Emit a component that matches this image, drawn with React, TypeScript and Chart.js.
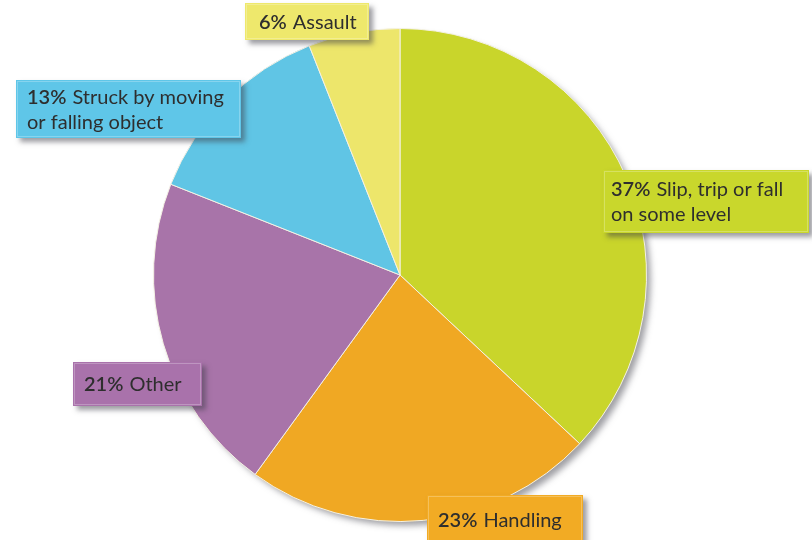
import React, { useEffect, useRef } from "react";
import { Chart, registerables } from "chart.js";

Chart.register(...registerables);

const categories = [
  "Slip, trip or fall on some level",
  "Handling",
  "Other",
  "Struck by moving or falling object",
  "Assault",
];
const percentages = [37, 23, 21, 13, 6];
const sliceColors = ["#c9d52b", "#f0a823", "#a874a9", "#60c5e5", "#ede66b"];
const boxColors = ["#c9d72c", "#f2ab24", "#a972ab", "#5fc6e8", "#eee86c"];

// label text lines (after the percentage) for each category
const labelLines = [
  ["Slip, trip or fall", "on some level"],
  ["Handling"],
  ["Other"],
  ["Struck by moving", "or falling object"],
  ["Assault"],
];

// layout of the label boxes (x, y, width, height) in canvas pixels
const boxLayout = [
  { x: 603, y: 170, w: 206, h: 63 },
  { x: 427, y: 495, w: 156, h: 50 },
  { x: 73, y: 362, w: 129, h: 44 },
  { x: 16, y: 80, w: 225, h: 58 },
  { x: 245, y: 3, w: 124, h: 37 },
];

const FONT = "Lato, 'Open Sans', sans-serif";

const pieShadow = {
  id: "pieShadow",
  beforeDatasetsDraw(chart: any) {
    const meta = chart.getDatasetMeta(0);
    const arc = meta.data[0];
    if (!arc) return;
    const { x, y, outerRadius } = arc.getProps(["x", "y", "outerRadius"], true);
    const ctx = chart.ctx;
    ctx.save();
    ctx.shadowColor = "rgba(80,80,90,0.55)";
    ctx.shadowBlur = 6;
    ctx.shadowOffsetX = 5;
    ctx.shadowOffsetY = 5;
    ctx.fillStyle = "#ffffff";
    ctx.beginPath();
    ctx.arc(x, y, outerRadius - 1, 0, Math.PI * 2);
    ctx.fill();
    ctx.restore();
  },
};

const labelBoxes = {
  id: "labelBoxes",
  afterDraw(chart: any) {
    const ctx = chart.ctx;
    const data = chart.data.datasets[0].data as number[];
    data.forEach((v: number, i: number) => {
      const b = boxLayout[i];
      ctx.save();
      ctx.shadowColor = "rgba(60,60,70,0.5)";
      ctx.shadowBlur = 5;
      ctx.shadowOffsetX = 4;
      ctx.shadowOffsetY = 4;
      ctx.fillStyle = boxColors[i];
      ctx.fillRect(b.x, b.y, b.w, b.h);
      ctx.restore();
      ctx.save();
      ctx.strokeStyle = "rgba(255,255,255,0.25)";
      ctx.lineWidth = 1;
      ctx.strokeRect(b.x + 1.5, b.y + 1.5, b.w - 3, b.h - 3);
      ctx.fillStyle = "#2e2e2e";
      ctx.textBaseline = "middle";
      const lines = labelLines[i];
      const lh = 25;
      const startY = b.y + b.h / 2 - ((lines.length - 1) * lh) / 2 + 1;
      const padX = i === 0 ? 8 : i === 4 ? 14 : 11;
      lines.forEach((ln: string, j: number) => {
        let x = b.x + padX;
        const y = startY + j * lh;
        if (j === 0) {
          ctx.font = `600 20px ${FONT}`;
          const pct = `${v}%`;
          ctx.fillText(pct, x, y);
          x += ctx.measureText(pct).width + 6;
        }
        ctx.font = `400 20px ${FONT}`;
        ctx.fillText(ln, x, y);
      });
      ctx.restore();
    });
  },
};

export default function App() {
  const ref = useRef<HTMLCanvasElement | null>(null);
  useEffect(() => {
    if (!ref.current) return;
    const chart = new Chart(ref.current, {
      type: "pie",
      data: {
        labels: categories,
        datasets: [
          {
            data: percentages,
            backgroundColor: sliceColors,
            borderColor: "#f4f1e4",
            borderWidth: 1,
          },
        ],
      },
      options: {
        responsive: false,
        animation: false,
        devicePixelRatio: 1,
        layout: { padding: { top: 28, bottom: 18, left: 153, right: 165 } },
        plugins: {
          legend: { display: false },
          tooltip: { enabled: false },
        },
      },
      plugins: [pieShadow, labelBoxes],
    });
    return () => chart.destroy();
  }, []);
  return (
    <div style={{ position: "fixed", left: 0, top: 0, width: 812, height: 540, background: "#ffffff" }}>
      <canvas ref={ref} width={812} height={540} style={{ width: 812, height: 540 }} />
    </div>
  );
}
